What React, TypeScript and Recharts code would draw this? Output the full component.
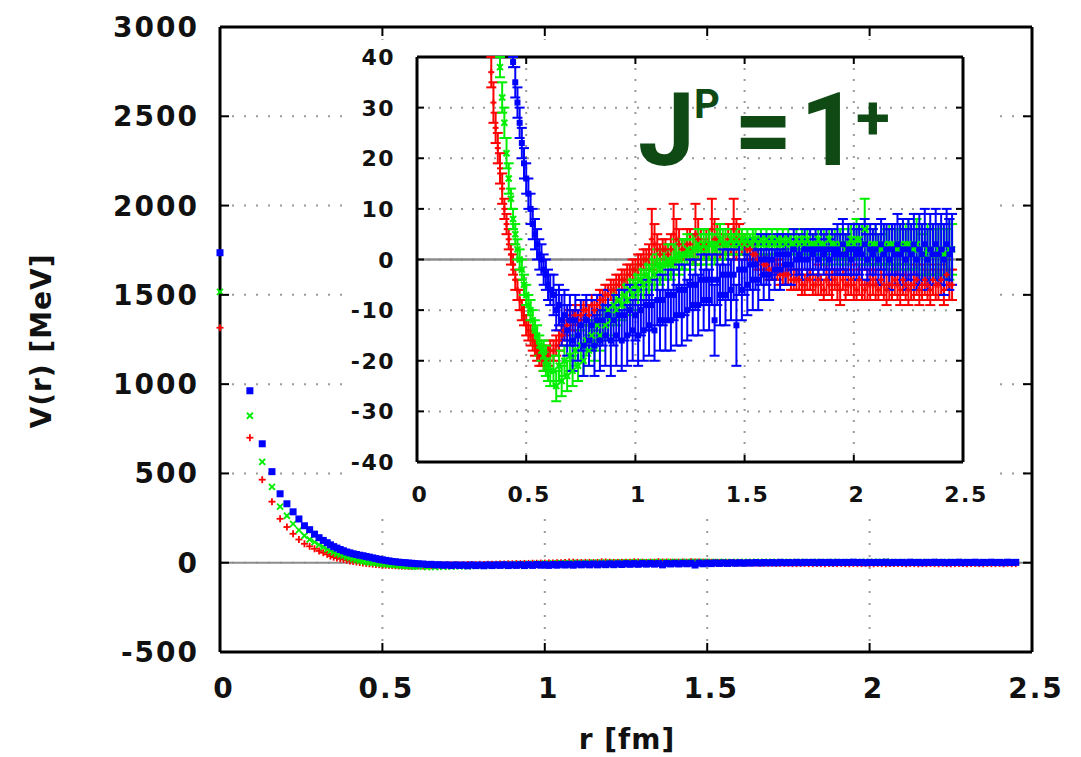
import { ScatterChart, Scatter, XAxis, YAxis, CartesianGrid, ReferenceLine, ErrorBar, Label } from 'recharts'

// r in fm, shared by the three data sets
const R_FM = [
  0, 0.092, 0.13, 0.16, 0.185, 0.206, 0.225, 0.243, 0.26, 0.276, 0.291, 0.305, 0.318, 0.33,
  0.34, 0.35, 0.36, 0.37, 0.38, 0.39, 0.4, 0.41, 0.42, 0.43, 0.44, 0.45, 0.46, 0.47, 0.48, 0.49, 0.5, 0.51, 0.52, 0.53, 0.54, 0.55, 0.56, 0.57, 0.58, 0.59, 0.6, 0.61,
  0.625, 0.6375, 0.65, 0.6625, 0.675, 0.6875, 0.7, 0.7125, 0.725, 0.7375, 0.75, 0.7625, 0.775, 0.7875, 0.8, 0.8125,
  0.825, 0.8375, 0.85, 0.8625, 0.875, 0.8875, 0.9, 0.9125, 0.925, 0.9375, 0.95, 0.9625, 0.975, 0.9875, 1, 1.0125,
  1.025, 1.0375, 1.05, 1.0625, 1.075, 1.0875, 1.1, 1.1125, 1.125, 1.1375, 1.15, 1.1625, 1.175, 1.1875, 1.2, 1.2125,
  1.225, 1.2375, 1.25, 1.2625, 1.275, 1.2875, 1.3, 1.3125, 1.325, 1.3375, 1.35, 1.3625, 1.375, 1.3875, 1.4, 1.4125,
  1.425, 1.4375, 1.45, 1.4625, 1.475, 1.4875, 1.5, 1.5125, 1.525, 1.5375, 1.55, 1.5625, 1.575, 1.5875, 1.6, 1.6125,
  1.625, 1.6375, 1.65, 1.6625, 1.675, 1.6875, 1.7, 1.7125, 1.725, 1.7375, 1.75, 1.7625, 1.775, 1.7875, 1.8, 1.8125,
  1.825, 1.8375, 1.85, 1.8625, 1.875, 1.8875, 1.9, 1.9125, 1.925, 1.9375, 1.95, 1.9625, 1.975, 1.9875, 2, 2.0125,
  2.025, 2.0375, 2.05, 2.0625, 2.075, 2.0875, 2.1, 2.1125, 2.125, 2.1375, 2.15, 2.1625, 2.175, 2.1875, 2.2, 2.2125,
  2.225, 2.2375, 2.25, 2.2625, 2.275, 2.2875, 2.3, 2.3125, 2.325, 2.3375, 2.35, 2.3625, 2.375, 2.3875, 2.4, 2.4125,
  2.425, 2.4375, 2.45,
]

// V(r) in MeV and its error
const V_RED = [
  1316, 700, 465, 342, 246, 200, 162, 130, 106, 92, 78, 66, 56, 47,
  37, 31, 26, 22, 18, 14, 10, 7, 4, 1, -1, -4, -6, -8, -10, -11, -13, -14, -15, -16, -17, -18, -19, -19, -20, -20, -19, -18,
  -18, -17, -16, -15, -14, -13, -12, -12, -11, -12, -11, -10, -10, -11, -9, -10,
  -9, -8, -8, -7, -7, -6, -6, -5, -5, -4, -4, -3, -3, -2, -2, -1,
  -1, 0, 0, 1, 4, 3, 2, 1, 2, 2, 1, 2, 5, 4, 3, 2,
  2, 3, 3, 2, 5, 4, 3, 2, 3, 3, 6, 4, 4, 3, 3, 3,
  4, 3, 6, 4, 4, 3, 3, 2, 2, 1, 1, 0, 0, -1, -1, -2,
  -2, -2, -2, -3, -3, -3, -3, -4, -4, -4, -4, -5, -5, -4, -4, -5,
  -5, -4, -5, -6, -4, -5, -5, -4, -5, -6, -4, -5, -5, -4, -5, -6,
  -4, -5, -6, -5, -5, -4, -5, -6, -4, -5, -6, -5, -5, -4, -5, -6,
  -4, -5, -6, -5, -5, -4, -6, -5, -4, -5, -6, -4, -5, -5, -4, -6,
  -3, -5, -5,
]
const E_RED = [
  3, 3, 2, 2, 2, 2, 2, 2, 2, 2, 2, 2, 2, 3,
  3, 4, 3, 3, 3, 3, 2, 2, 2, 2, 2, 2, 2, 2, 2, 2, 2, 2, 2, 2, 2, 2, 2, 2, 2, 2, 2, 2,
  2, 2, 2, 2, 2, 2, 2, 2, 2, 2, 2, 2, 2, 2, 2, 2,
  2, 2, 2, 2, 2, 2, 2, 2, 2, 2, 2, 2, 2, 2, 2, 2,
  2, 2, 2, 2, 6, 4, 3, 2, 2, 2, 2, 3, 6, 4, 3, 2,
  2, 3, 3, 3, 6, 4, 3, 2, 3, 3, 6, 4, 3, 3, 2, 2,
  3, 2, 6, 4, 3, 2, 2, 2, 2, 2, 2, 2, 2, 2, 2, 2,
  2, 2, 2, 2, 2, 2, 2, 2, 2, 2, 2, 2, 2, 2, 2, 2,
  2, 3, 2, 2, 3, 2, 3, 2, 3, 3, 2, 3, 2, 3, 3, 2,
  3, 3, 2, 3, 3, 3, 3, 2, 3, 3, 3, 3, 3, 3, 3, 3,
  3, 3, 3, 3, 3, 3, 3, 3, 3, 3, 3, 3, 3, 3, 3, 3,
  3, 3, 3,
]

const V_GREEN = [
  1517, 823, 565, 425, 314, 263, 218, 182, 151, 130, 115, 100, 88, 76,
  66, 58, 50, 44, 38, 32, 27, 21, 16, 12, 8, 5, 2, 0, -2, -5, -7, -9, -10, -12, -14, -15, -17, -18, -19, -20, -21, -22,
  -22, -25, -21, -24, -20, -23, -19, -22, -18, -21, -17, -20, -16, -18, -15, -17,
  -13, -15, -12, -13, -10, -12, -9, -10, -8, -9, -7, -8, -6, -7, -5, -6,
  -4, -5, -3, -4, -2, -3, -1, -2, -1, -1, 0, -1, 0, 1, 0, 1,
  1, 2, 1, 2, 2, 3, 2, 3, 2, 3, 3, 2, 3, 4, 3, 3,
  3, 4, 3, 4, 3, 4, 3, 4, 3, 4, 4, 3, 4, 3, 4, 3,
  4, 3, 4, 3, 4, 3, 4, 3, 3, 4, 3, 4, 3, 4, 3, 3,
  3, 4, 3, 3, 2, 4, 3, 3, 2, 3, 3, 2, 3, 4, 3, 4,
  4, 3, 6, 3, 2, 3, 3, 2, 2, 3, 2, 3, 3, 2, 2, 3,
  2, 3, 3, 2, 2, 3, 2, 1, 1, 2, 2, 1, 1, 2, 2, 1,
  1, 2, 2,
]
const E_GREEN = [
  3, 3, 2, 2, 2, 2, 2, 2, 2, 2, 2, 2, 2, 3,
  4, 3, 3, 3, 2, 3, 3, 3, 3, 2, 2, 2, 2, 2, 2, 2, 2, 2, 2, 2, 2, 2, 2, 2, 3, 3, 3, 3,
  3, 3, 3, 3, 3, 3, 3, 3, 3, 3, 3, 3, 3, 3, 3, 3,
  3, 3, 3, 3, 3, 3, 3, 3, 3, 3, 3, 3, 3, 3, 3, 3,
  3, 3, 3, 3, 3, 3, 3, 3, 3, 3, 3, 3, 3, 3, 3, 3,
  3, 3, 3, 3, 3, 3, 3, 3, 3, 3, 3, 3, 3, 3, 3, 3,
  2, 2, 2, 2, 2, 2, 2, 2, 2, 2, 2, 2, 2, 2, 2, 2,
  2, 2, 2, 2, 2, 2, 2, 2, 2, 2, 2, 2, 2, 2, 2, 2,
  2, 2, 2, 3, 3, 2, 2, 3, 3, 3, 3, 3, 3, 3, 3, 4,
  3, 4, 6, 4, 3, 3, 4, 3, 3, 4, 4, 4, 4, 4, 4, 4,
  4, 4, 5, 4, 4, 5, 5, 4, 5, 5, 5, 5, 5, 5, 5, 5,
  5, 6, 5,
]

const V_BLUE = [
  1736, 963, 666, 510, 386, 330, 285, 245, 207, 185, 160, 140, 125, 112,
  100, 90, 82, 74, 67, 60, 55, 50, 46, 42, 39, 35, 31, 27, 23, 19, 16, 13, 10, 7, 5, 3, 1, 0, -2, -3, -5, -6,
  -7, -10, -9, -12, -11, -14, -12, -16, -12, -15, -13, -17, -12, -16, -13, -17,
  -12, -16, -12, -15, -11, -16, -12, -15, -11, -16, -11, -15, -10, -14, -11, -15,
  -10, -14, -9, -13, -9, -14, -8, -12, -8, -12, -7, -12, -7, -11, -6, -11,
  -6, -10, -5, -9, -5, -9, -4, -8, -4, -8, -4, -12, -4, -7, -3, -7,
  -3, -6, -3, -13, -2, -6, -2, -5, -1, -4, -1, -4, 0, -3, 0, -3,
  0, -2, 1, -2, 1, -1, 1, -1, 2, 0, 1, 0, 2, 0, 2, 1,
  2, 0, 2, 1, 2, 0, 2, 1, 2, 1, 3, 1, 2, 0, 2, 1,
  2, 1, 3, 0, 2, 1, 2, 0, 3, 1, 2, 0, 2, 1, 3, 1,
  2, 0, 2, 1, 3, 0, 2, 1, 3, 0, 2, 1, 3, 1, 2, 0,
  3, 1, 2,
]
const E_BLUE = [
  3, 3, 3, 2, 2, 2, 2, 2, 2, 2, 2, 2, 2, 3,
  4, 3, 3, 3, 3, 3, 3, 3, 3, 3, 1, 3, 3, 3, 3, 3, 3, 3, 3, 3, 3, 3, 3, 3, 3, 3, 3, 3,
  4, 4, 4, 5, 5, 5, 5, 6, 5, 5, 5, 6, 5, 5, 5, 6,
  5, 6, 5, 6, 5, 7, 5, 6, 5, 6, 5, 6, 5, 6, 5, 6,
  5, 6, 5, 6, 5, 6, 5, 6, 5, 6, 5, 6, 5, 6, 5, 6,
  5, 6, 5, 6, 5, 6, 5, 6, 5, 6, 5, 7, 5, 6, 5, 6,
  5, 6, 5, 8, 5, 6, 5, 6, 5, 6, 5, 6, 5, 5, 5, 5,
  4, 4, 4, 4, 4, 4, 4, 4, 4, 4, 4, 4, 4, 4, 4, 4,
  4, 4, 4, 4, 4, 4, 4, 4, 5, 4, 5, 4, 5, 4, 5, 5,
  5, 5, 5, 5, 5, 5, 5, 5, 5, 6, 5, 6, 5, 6, 6, 6,
  6, 6, 6, 6, 6, 6, 7, 6, 7, 6, 7, 6, 7, 6, 7, 7,
  7, 7, 7,
]

const MAIN_X_TICKS = [0, 0.5, 1, 1.5, 2, 2.5]
const MAIN_Y_TICKS = [-500, 0, 500, 1000, 1500, 2000, 2500, 3000]
const INSET_X_TICKS = [0, 0.5, 1, 1.5, 2, 2.5]
const INSET_Y_TICKS = [-40, -30, -20, -10, 0, 10, 20, 30, 40]

const RED = '#ff0000'
const GREEN = '#00ee00'
const BLUE = '#0000ff'
const FONT = '"DejaVu Sans", sans-serif'

const W = 1081
const H = 757
// main frame in page pixels
const M_LEFT = 220
const M_RIGHT = 1032
const M_TOP = 27
const M_BOTTOM = 652
// inset box and its frame (inset-local pixels)
const I_X = 342
const I_Y = 40
const I_W = 653
const I_H = 475
const I_LEFT = 75
const I_RIGHT = 621
const I_TOP = 17
const I_BOTTOM = 422

const toPoints = (v: number[], e: number[]) => R_FM.map((r, i) => ({ r, v: v[i], e: e[i] }))
const RED_PTS = toPoints(V_RED, E_RED)
const GREEN_PTS = toPoints(V_GREEN, E_GREEN)
const BLUE_PTS = toPoints(V_BLUE, E_BLUE)
// the inset only shows what falls inside its y range
const inInset = (p: { v: number }) => p.v <= 40 && p.v >= -40

const plus = (s: number, w: number) => (p: any) => (
  <g stroke={RED} strokeWidth={w}>
    <line x1={p.cx - s / 2} y1={p.cy} x2={p.cx + s / 2} y2={p.cy} />
    <line x1={p.cx} y1={p.cy - s / 2} x2={p.cx} y2={p.cy + s / 2} />
  </g>
)
const cross = (s: number, w: number) => (p: any) => (
  <g stroke={GREEN} strokeWidth={w}>
    <line x1={p.cx - s / 2} y1={p.cy - s / 2} x2={p.cx + s / 2} y2={p.cy + s / 2} />
    <line x1={p.cx - s / 2} y1={p.cy + s / 2} x2={p.cx + s / 2} y2={p.cy - s / 2} />
  </g>
)
const square = (s: number) => (p: any) => (
  <rect x={p.cx - s / 2} y={p.cy - s / 2} width={s} height={s} fill={BLUE} />
)

const tickText = { fontFamily: FONT, fontWeight: 'bold', fill: '#111' } as const

function MainXTick({ x, y, payload }: any) {
  return (
    <g>
      <line x1={x} y1={M_BOTTOM} x2={x} y2={M_BOTTOM - 9} stroke="#000" strokeWidth={2} />
      <line x1={x} y1={M_TOP} x2={x} y2={M_TOP + 9} stroke="#000" strokeWidth={2} />
      <text x={x + 4} y={y + 46} textAnchor="middle" fontSize={28} letterSpacing={2} {...tickText}>{payload.value}</text>
    </g>
  )
}

function MainYTick({ x, y, payload }: any) {
  return (
    <g>
      <line x1={M_LEFT} y1={y} x2={M_LEFT + 9} y2={y} stroke="#000" strokeWidth={2} />
      <line x1={M_RIGHT - 9} y1={y} x2={M_RIGHT} y2={y} stroke="#000" strokeWidth={2} />
      <text x={x - 21} y={y + 10} textAnchor="end" fontSize={28} letterSpacing={2} {...tickText}>{payload.value}</text>
    </g>
  )
}

function InsetXTick({ x, y, payload }: any) {
  return (
    <g>
      <line x1={x} y1={I_BOTTOM} x2={x} y2={I_BOTTOM - 7} stroke="#000" strokeWidth={2} />
      <line x1={x} y1={I_TOP} x2={x} y2={I_TOP + 7} stroke="#000" strokeWidth={2} />
      <text x={x + 3} y={y + 40} textAnchor="middle" fontSize={22} letterSpacing={1.5} {...tickText}>{payload.value}</text>
    </g>
  )
}

function InsetYTick({ x, y, payload }: any) {
  return (
    <g>
      <line x1={I_LEFT} y1={y} x2={I_LEFT + 7} y2={y} stroke="#000" strokeWidth={2} />
      <line x1={I_RIGHT - 7} y1={y} x2={I_RIGHT} y2={y} stroke="#000" strokeWidth={2} />
      <text x={x - 22} y={y + 8} textAnchor="end" fontSize={22} letterSpacing={1.5} {...tickText}>{payload.value}</text>
    </g>
  )
}

export default function App() {
  return (
    <div style={{ position: 'absolute', left: 0, top: 0, width: W, height: H, background: '#fff' }}>
      <ScatterChart width={W} height={H} margin={{ top: M_TOP, right: W - M_RIGHT, bottom: 0, left: 0 }}>
        <CartesianGrid stroke="#9a9a9a" strokeWidth={2} strokeDasharray="2 10" />
        <XAxis
          type="number" dataKey="r" domain={[0, 2.5]} ticks={MAIN_X_TICKS} interval={0}
          height={H - M_BOTTOM} tickSize={0} tickMargin={0} tickLine={false}
          tick={<MainXTick />} axisLine={{ stroke: '#000', strokeWidth: 3 }}
        >
          <Label content={() => (
            <text x={627} y={749} textAnchor="middle" fontSize={28} letterSpacing={1} {...tickText}>r [fm]</text>
          )} />
        </XAxis>
        <YAxis
          type="number" dataKey="v" domain={[-500, 3000]} ticks={MAIN_Y_TICKS} interval={0}
          width={M_LEFT} tickSize={0} tickMargin={0} tickLine={false}
          tick={<MainYTick />} axisLine={{ stroke: '#000', strokeWidth: 3 }}
        >
          <Label content={() => (
            <text x={41} y={341} transform="rotate(-90 41 341)" textAnchor="middle" dominantBaseline="central" fontSize={28} letterSpacing={1} {...tickText}>V(r) [MeV]</text>
          )} />
        </YAxis>
        <ReferenceLine y={0} stroke="#8c8c8c" strokeWidth={2} />
        <ReferenceLine y={3000} stroke="#000" strokeWidth={3} />
        <ReferenceLine x={2.5} stroke="#000" strokeWidth={3} />
        <Scatter data={RED_PTS} shape={plus(7, 1.8)} isAnimationActive={false} />
        <Scatter data={GREEN_PTS} shape={cross(6, 1.8)} isAnimationActive={false} />
        <Scatter data={BLUE_PTS} shape={square(7)} isAnimationActive={false} />
      </ScatterChart>

      <div style={{ position: 'absolute', left: I_X, top: I_Y, width: I_W, height: I_H, background: '#fff' }}>
        <ScatterChart width={I_W} height={I_H} margin={{ top: I_TOP, right: I_W - I_RIGHT, bottom: 0, left: 0 }}>
          <CartesianGrid stroke="#9a9a9a" strokeWidth={2} strokeDasharray="2 9" />
          <XAxis
            type="number" dataKey="r" domain={[0, 2.5]} ticks={INSET_X_TICKS} interval={0} allowDataOverflow
            height={I_H - I_BOTTOM} tickSize={0} tickMargin={0} tickLine={false}
            tick={<InsetXTick />} axisLine={{ stroke: '#000', strokeWidth: 3 }}
          />
          <YAxis
            type="number" dataKey="v" domain={[-40, 40]} ticks={INSET_Y_TICKS} interval={0} allowDataOverflow
            width={I_LEFT} tickSize={0} tickMargin={0} tickLine={false}
            tick={<InsetYTick />} axisLine={{ stroke: '#000', strokeWidth: 3 }}
          />
          <ReferenceLine y={0} stroke="#8c8c8c" strokeWidth={2.5} />
          <ReferenceLine y={40} stroke="#000" strokeWidth={3} />
          <ReferenceLine x={2.5} stroke="#000" strokeWidth={3} />
          <Scatter data={RED_PTS.filter(inInset)} shape={plus(6, 2)} isAnimationActive={false}>
            <ErrorBar dataKey="e" direction="y" width={5} stroke={RED} strokeWidth={2} isAnimationActive={false} />
          </Scatter>
          <Scatter data={GREEN_PTS.filter(inInset)} shape={cross(6, 2)} isAnimationActive={false}>
            <ErrorBar dataKey="e" direction="y" width={5} stroke={GREEN} strokeWidth={2} isAnimationActive={false} />
          </Scatter>
          <Scatter data={BLUE_PTS.filter(inInset)} shape={square(6)} isAnimationActive={false}>
            <ErrorBar dataKey="e" direction="y" width={5} stroke={BLUE} strokeWidth={2} isAnimationActive={false} />
          </Scatter>
        </ScatterChart>
      </div>

      <svg width={W} height={H} style={{ position: 'absolute', left: 0, top: 0, pointerEvents: 'none' }}>
        <text fill="#0f4a14" fontFamily="Roboto, sans-serif" fontWeight="bold" fontSize={102} y={165}>
          <tspan x={638}>J</tspan>
          <tspan x={694} y={118} fontSize={40}>P</tspan>
          <tspan x={734} y={165}>=</tspan>
          <tspan x={800} y={165}>1</tspan>
          <tspan x={856} y={139} fontSize={62}>+</tspan>
        </text>
      </svg>
    </div>
  )
}
